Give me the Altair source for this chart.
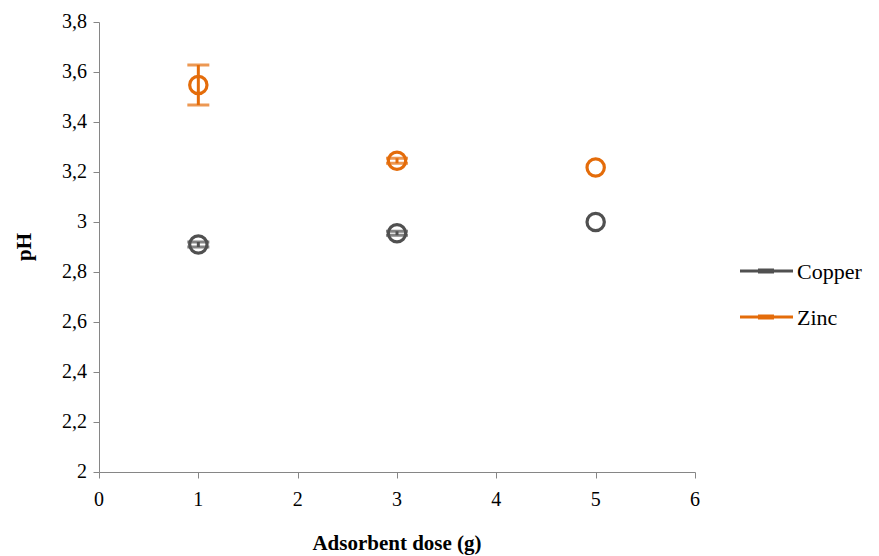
import altair as alt
import pandas as pd

dose = [1, 3, 5]
copper = [2.91, 2.955, 3.0]
zinc = [3.548, 3.245, 3.218]
copper_err = [0.01, 0.008, 0.0]
zinc_err = [0.08, 0.01, 0.0]
series = ["Copper", "Zinc"]
colors = ["#505050", "#E46C0A"]
x_ticks = [0, 1, 2, 3, 4, 5, 6]
y_ticks = [2, 2.2, 2.4, 2.6, 2.8, 3, 3.2, 3.4, 3.6, 3.8]
y_tick_labels = ["2", "2,2", "2,4", "2,6", "2,8", "3", "3,2", "3,4", "3,6", "3,8"]
x_title = "Adsorbent dose (g)"
y_title = "pH"

rows = []
for d, v, e in zip(dose, copper, copper_err):
    rows.append({"dose": d, "ph": v, "lo": v - e, "hi": v + e, "metal": "Copper", "err": e})
for d, v, e in zip(dose, zinc, zinc_err):
    rows.append({"dose": d, "ph": v, "lo": v - e, "hi": v + e, "metal": "Zinc", "err": e})
df = pd.DataFrame(rows)

FONT = "Times New Roman"
W, H = 596, 450
x_scale = alt.Scale(domain=[0, 6], nice=False)
y_scale = alt.Scale(domain=[2, 3.8], nice=False, zero=False)
cscale = alt.Scale(domain=series, range=colors)

x_axis = alt.Axis(title=None, values=x_ticks, labels=False, grid=False,
                  domainColor="#868686", tickColor="#868686", tickSize=6)
y_axis = alt.Axis(title=None, values=y_ticks, labels=False, grid=False,
                  domainColor="#868686", tickColor="#868686", tickSize=6)

base = alt.Chart(df)
pts = base.mark_point(shape="circle", filled=False, size=300, strokeWidth=3.2, opacity=1).encode(
    x=alt.X("dose:Q", scale=x_scale, axis=x_axis),
    y=alt.Y("ph:Q", scale=y_scale, axis=y_axis),
    color=alt.Color("metal:N", scale=cscale, legend=None))
err = base.transform_filter("datum.err > 0").mark_rule(strokeWidth=3).encode(
    x=alt.X("dose:Q", scale=x_scale, axis=x_axis), y=alt.Y("lo:Q", scale=y_scale, axis=y_axis), y2="hi:Q",
    color=alt.Color("metal:N", scale=cscale, legend=None))
cap_lo = base.transform_filter("datum.err > 0").mark_tick(orient="horizontal", size=22, thickness=3).encode(
    x=alt.X("dose:Q", scale=x_scale, axis=x_axis), y=alt.Y("lo:Q", scale=y_scale, axis=y_axis),
    color=alt.Color("metal:N", scale=cscale, legend=None))
cap_hi = base.transform_filter("datum.err > 0").mark_tick(orient="horizontal", size=22, thickness=3).encode(
    x=alt.X("dose:Q", scale=x_scale, axis=x_axis), y=alt.Y("hi:Q", scale=y_scale, axis=y_axis),
    color=alt.Color("metal:N", scale=cscale, legend=None))

# tick labels as serif text
ylab_df = pd.DataFrame({"v": y_ticks, "t": y_tick_labels})
ylab = alt.Chart(ylab_df).mark_text(font=FONT, fontSize=20, align="right", baseline="middle", color="#000000").encode(
    x=alt.value(-12), y=alt.Y("v:Q", scale=y_scale, axis=y_axis), text="t:N")
xlab_df = pd.DataFrame({"v": x_ticks, "t": [str(v) for v in x_ticks]})
xlab = alt.Chart(xlab_df).mark_text(font=FONT, fontSize=20, align="center", baseline="middle", color="#000000").encode(
    x=alt.X("v:Q", scale=x_scale, axis=x_axis), y=alt.value(H + 28), text="t:N")

# axis titles
xt = alt.Chart(pd.DataFrame({"t": [x_title]})).mark_text(
    font=FONT, fontSize=21, fontWeight="bold", align="center", baseline="middle", color="#000000").encode(
    x=alt.value(W / 2), y=alt.value(H + 72), text="t:N")
yt = alt.Chart(pd.DataFrame({"t": [y_title]})).mark_text(
    font=FONT, fontSize=21, fontWeight="bold", align="center", baseline="middle", angle=270, color="#000000").encode(
    x=alt.value(-74), y=alt.value(H / 2), text="t:N")

# legend
leg_layers = []
for i, (s, c) in enumerate(zip(series, colors)):
    ly = 249 + i * 46
    one = pd.DataFrame({"metal": [s]})
    leg_layers.append(alt.Chart(one).mark_rule(strokeWidth=3, color=c).encode(
        x=alt.value(641), x2=alt.value(694), y=alt.value(ly)))
    leg_layers.append(alt.Chart(one).mark_rule(strokeWidth=5, color=c).encode(
        x=alt.value(659), x2=alt.value(675), y=alt.value(ly)))
    leg_layers.append(alt.Chart(one).mark_text(font=FONT, fontSize=22, align="left", baseline="middle", color="#000000").encode(
        x=alt.value(698), y=alt.value(ly + 1), text="metal:N"))

chart = alt.layer(pts, err, cap_lo, cap_hi, ylab, xlab, xt, yt, *leg_layers).properties(
    width=W, height=H,
    background="#ffffff",
    autosize=alt.AutoSizeParams(type="none"),
    padding={"left": 99, "top": 22, "right": 184, "bottom": 84},
).configure_view(stroke=None)

chart.save("out.html", embed_options={"renderer": "svg", "actions": False})
